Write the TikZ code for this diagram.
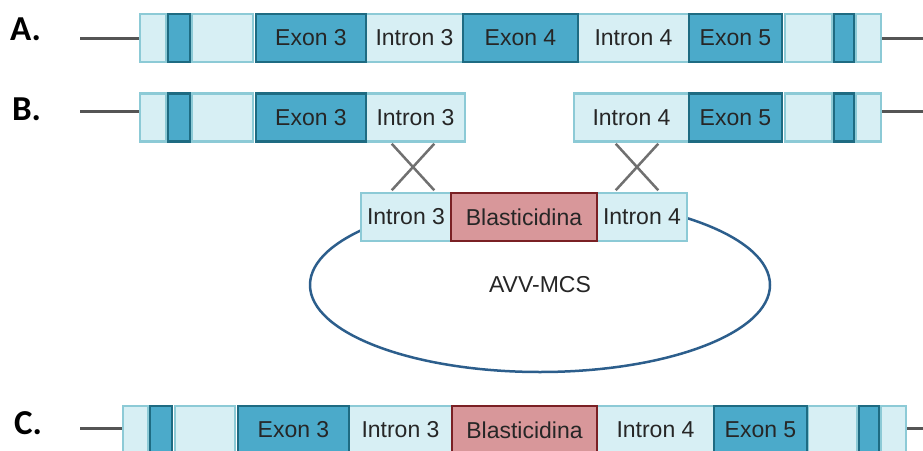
\documentclass[tikz,border=0pt]{standalone}
\usepackage{fontspec}
\setmainfont{Liberation Sans}
\newfontfamily\carlito{Carlito}
\usetikzlibrary{shapes.geometric,shapes.misc}
\definecolor{lfill}{HTML}{D7EFF4}
\definecolor{ldraw}{HTML}{8CCAD6}
\definecolor{dfill}{HTML}{4BAACA}
\definecolor{ddraw}{HTML}{1E6B82}
\definecolor{rfill}{HTML}{D8979A}
\definecolor{rdraw}{HTML}{7A2024}
\definecolor{txt}{HTML}{262626}
\definecolor{bbone}{HTML}{555555}
\definecolor{xgray}{HTML}{707070}
\definecolor{plasc}{HTML}{2C5E8C}
\tikzset{
  base/.style={draw, inner sep=0pt, minimum height=48pt, text=txt, font=\fontsize{23}{27}\selectfont},
  lbox/.style={base, fill=lfill, draw=ldraw, line width=2.5pt},
  dbox/.style={base, fill=dfill, draw=ddraw, line width=2.8pt},
  rbox/.style={base, fill=rfill, draw=rdraw, line width=2.8pt},
  bbline/.style={draw=bbone, line width=3pt},
  xmark/.style={cross out, draw=xgray, line width=2.5pt, inner sep=0pt, minimum width=40pt, minimum height=44pt},
  rowlab/.style={inner sep=0pt, text=black, font=\fontsize{35}{40}\selectfont\carlito\bfseries},
}
\begin{document}
\begin{tikzpicture}[x=1pt,y=-1pt]
\clip (0,0) rectangle (923,450);
\fill[white] (0,0) rectangle (923,450);
% labels
\node[rowlab] (labA) at (25.5,29) {A.};
\node[rowlab] (labB) at (26.5,109.5) {B.};
\node[rowlab] (labC) at (28,423.5) {C.};
% ---------- Row A ----------
\coordinate (laA) at (80,38);
\coordinate (raA) at (923,38);
\node[lbox, minimum width=26pt]  (a1)  at (153,38) {};
\node[dbox, minimum width=22pt]  (a2)  at (179,38) {};
\node[lbox, minimum width=61pt]  (a3)  at (222.5,38) {};
\node[lbox, minimum width=97pt]  (a5)  at (414.5,38) {Intron 3};
\node[lbox, minimum width=111pt] (a7)  at (633.5,38) {Intron 4};
\node[lbox, minimum width=47pt]  (a9)  at (808.5,38) {};
\node[lbox, minimum width=25pt]  (a11) at (868.5,38) {};
\node[dbox, minimum width=110pt] (a4)  at (311,38) {Exon 3};
\node[dbox, minimum width=115pt] (a6)  at (520.5,38) {Exon 4};
\node[dbox, minimum width=93pt]  (a8)  at (735.5,38) {Exon 5};
\node[dbox, minimum width=20pt]  (a10) at (844,38) {};
\draw[bbline] (laA) -- (a1.west);
\draw[bbline] (a11.east) -- (raA);
% ---------- Row B ----------
\coordinate (laB) at (80,111);
\coordinate (raB) at (923,111);
\node[lbox, minimum width=26pt]  (b1)  at (153,117.5) {};
\node[dbox, minimum width=22pt]  (b2)  at (179,117.5) {};
\node[lbox, minimum width=61pt]  (b3)  at (222.5,117.5) {};
\node[lbox, minimum width=99pt]  (b5)  at (415.5,117.5) {Intron 3};
\node[dbox, minimum width=110pt] (b4)  at (311,117.5) {Exon 3};
\node[lbox, minimum width=115pt] (b7)  at (631.5,117.5) {Intron 4};
\node[lbox, minimum width=47pt]  (b9)  at (808.5,117.5) {};
\node[lbox, minimum width=25pt]  (b11) at (868.5,117.5) {};
\node[dbox, minimum width=93pt]  (b8)  at (735.5,117.5) {Exon 5};
\node[dbox, minimum width=20pt]  (b10) at (844,117.5) {};
\draw[bbline] (laB) -- (laB -| b1.west);
\draw[bbline] (raB -| b11.east) -- (raB);
% crosses
\node[xmark] (x1) at (413,167) {};
\node[xmark] (x2) at (637,167) {};
% plasmid
\node[ellipse, draw=plasc, line width=2.5pt, minimum width=460pt, minimum height=174pt, inner sep=0pt, text=txt, font=\fontsize{23}{27}\selectfont] (plas) at (540,285) {AVV-MCS};
\node[lbox, minimum width=90pt]  (p1) at (406,217) {Intron 3};
\node[lbox, minimum width=90pt]  (p3) at (642,217) {Intron 4};
\node[rbox, minimum width=146pt] (p2) at (524,217) {Blasticidina};
% ---------- Row C ----------
\coordinate (laC) at (80,428);
\coordinate (raC) at (923,428);
\node[lbox, minimum width=25pt]  (c1)  at (135.5,430) {};
\node[dbox, minimum width=22pt]  (c2)  at (161,430) {};
\node[lbox, minimum width=60pt]  (c3)  at (205,430) {};
\node[lbox, minimum width=103pt] (c5)  at (400.5,430) {Intron 3};
\node[lbox, minimum width=117pt] (c7)  at (655.5,430) {Intron 4};
\node[lbox, minimum width=49pt]  (c9)  at (832.5,430) {};
\node[lbox, minimum width=25pt]  (c11) at (893.5,430) {};
\node[dbox, minimum width=111pt] (c4)  at (293.5,430) {Exon 3};
\node[rbox, minimum width=145pt] (c6)  at (524.5,430) {Blasticidina};
\node[dbox, minimum width=93pt]  (c8)  at (760.5,430) {Exon 5};
\node[dbox, minimum width=20pt]  (c10) at (869,430) {};
\draw[bbline] (laC) -- (laC -| c1.west);
\draw[bbline] (raC -| c11.east) -- (raC);
\end{tikzpicture}
\end{document}
